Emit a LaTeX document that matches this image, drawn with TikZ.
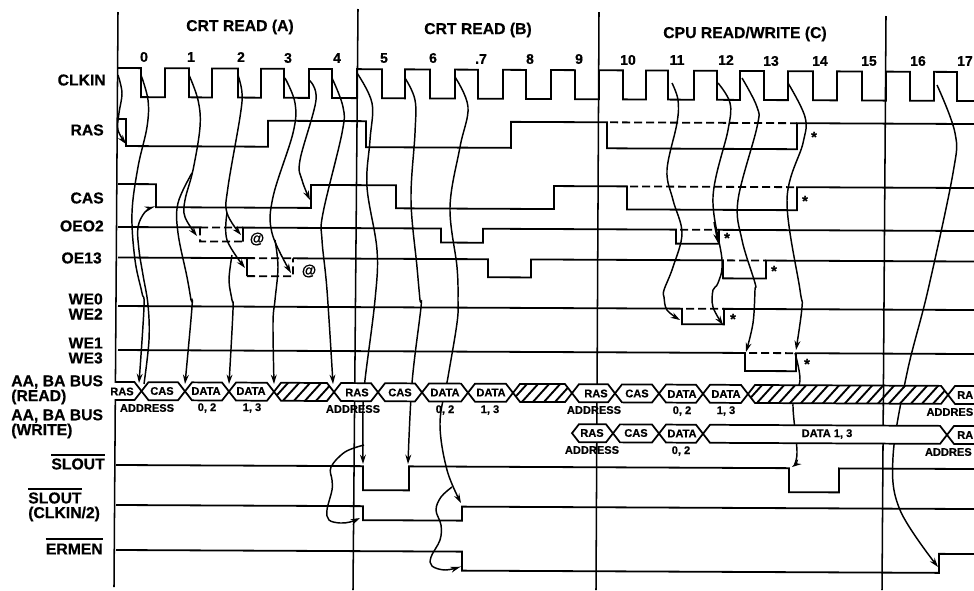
\documentclass[tikz,border=0pt]{standalone}
\usepackage{fontspec}
\setmainfont{Liberation Sans}[BoldFeatures={FakeBold=0.6}]
\usetikzlibrary{arrows.meta}
\tikzset{
  vline/.style={line width=1.15pt,black},
  wave/.style={line width=1.35pt,black,line join=miter},
  dashw/.style={line width=1.35pt,black,dash pattern=on 6pt off 3pt},
  arr/.style={line width=1.1pt,black,-{Stealth[length=7pt,width=4.4pt]}},
  bus/.style={line width=1.3pt,black,fill=white,line join=miter},
  hatchline/.style={line width=1.4pt,black},
  lab/.style={font=\bfseries\fontsize{11.8pt}{12pt}\selectfont,inner sep=0pt,black},
  num/.style={font=\bfseries\fontsize{10.5pt}{12pt}\selectfont,inner sep=0pt,black},
  small/.style={font=\bfseries\fontsize{8.3pt}{10pt}\selectfont,inner sep=0pt,black},
  sym/.style={font=\bfseries\fontsize{11pt}{12pt}\selectfont,inner sep=0pt,black},
  bar/.style={line width=1.1pt,black},
}
\newcommand{\hexseg}[3]{% a b yc
  \draw[bus] (#1,#3) -- (#1+7,#3-9) -- (#2-7,#3-9) -- (#2,#3) -- (#2-7,#3+9) -- (#1+7,#3+9) -- cycle;}
\newcommand{\hatchseg}[3]{%
  \begin{scope}
    \clip (#1,#3) -- (#1+7,#3-9) -- (#2-7,#3-9) -- (#2,#3) -- (#2-7,#3+9) -- (#1+7,#3+9) -- cycle;
    \fill[white] (#1,#3-10) rectangle (#2,#3+10);
    \foreach \k in {0,...,20} {
      \pgfmathsetmacro\hx{#1-14+11*\k}
      \draw[hatchline] (\hx,#3+10) -- (\hx+18,#3-10);
    }
  \end{scope}
  \draw[line width=1.3pt,line join=miter] (#1,#3) -- (#1+7,#3-9) -- (#2-7,#3-9) -- (#2,#3) -- (#2-7,#3+9) -- (#1+7,#3+9) -- cycle;}
\begin{document}
\begin{tikzpicture}[x=0.75pt,y=-0.75pt]
\useasboundingbox (0,0) rectangle (974,590);
\clip (0,0) rectangle (974,590);
% vertical lines
\draw[vline] (118,12) -- (114,587);
\draw[vline] (358,9) -- (353,590);
\draw[vline] (599,12) -- (596,590);
\draw[vline] (886,16) -- (882,590);
% waveforms
\begin{scope}[shift={(118,0)},yslant=-0.0047,shift={(-118,0)}]
  \draw[wave] (118,68) -- (141,68) -- (141,97)
   -- (165,97) -- (165,68) -- (189,68) -- (189,97) -- (212,97) -- (212,68) -- (238,68) -- (238,97)
   -- (261,97) -- (261,68) -- (284,68) -- (284,97) -- (309,97) -- (309,68) -- (332,68) -- (332,97)
   -- (357,97) -- (357,68) -- (382,68) -- (382,97) -- (405,97) -- (405,68) -- (430,68) -- (430,97)
   -- (455,97) -- (455,68) -- (478,68) -- (478,97) -- (503,97) -- (503,68) -- (526,68) -- (526,97)
   -- (551,97) -- (551,68) -- (575,68) -- (575,97) -- (599,97) -- (599,68) -- (623,68) -- (623,97)
   -- (646,97) -- (646,68) -- (668,68) -- (668,97) -- (694,97) -- (694,68) -- (717,68) -- (717,97)
   -- (740,97) -- (740,68) -- (764,68) -- (764,97) -- (788,97) -- (788,68) -- (813,68) -- (813,97)
   -- (837,97) -- (837,68) -- (862,68) -- (862,97) -- (886,97) -- (886,68) -- (910,68) -- (910,97)
   -- (934,97) -- (934,68) -- (957,68) -- (957,97) -- (980,97);
  % RAS
  \draw[wave] (118,119) -- (126,119) -- (126,146) -- (268,146) -- (268,120) -- (366,120) -- (366,146)
   -- (511,146) -- (511,120) -- (607,120) -- (607,146) -- (797,146) -- (797,120) -- (980,120);
  \draw[dashw] (610,120) -- (797,120);
  % CAS
  \draw[wave] (118,184) -- (156,184) -- (156,207) -- (311,207) -- (311,184) -- (396,184) -- (396,207)
   -- (554,207) -- (554,184) -- (627,184) -- (627,207) -- (797,207) -- (797,184) -- (980,184);
  \draw[dashw] (630,184) -- (797,184);
  % OEO2
  \draw[wave] (118,227) -- (200,227);
  \draw[dashw] (200,227) -- (243,227);
  \draw[dashw] (200,227) -- (200,241) -- (243,241);
  \draw[wave] (243,241) -- (243,227) -- (441,227) -- (441,241) -- (483,241) -- (483,227) -- (676,227)
   -- (676,241) -- (719,241) -- (719,227) -- (980,227);
  \draw[dashw] (680,227) -- (719,227);
  % OE13
  \draw[wave] (118,257.5) -- (247,257.5) -- (247,275.5);
  \draw[dashw] (247,257.5) -- (293,257.5);
  \draw[dashw] (247,275.5) -- (293,275.5) -- (293,257.5);
  \draw[wave] (293,257.5) -- (488,257.5) -- (488,275.5) -- (531,275.5) -- (531,257.5) -- (723,257.5)
   -- (723,275.5) -- (766,275.5) -- (766,257.5) -- (980,257.5);
  \draw[dashw] (727,257.5) -- (766,257.5);
  % WE0 WE2
  \draw[wave] (118,306) -- (682,306) -- (682,321.5) -- (724,321.5) -- (724,306) -- (980,306);
  \draw[dashw] (686,306) -- (724,306);
  % WE1 WE3
  \draw[wave] (118,350) -- (745,350) -- (745,368) -- (796,368) -- (796,350) -- (980,350);
  \draw[dashw] (749,350) -- (796,350);
  % SLOUT
  \draw[wave] (116,465) -- (363,465) -- (363,489) -- (409,489) -- (409,465) -- (789,465) -- (789,489)
   -- (839,489) -- (839,465) -- (980,465);
  % SLOUT CLKIN/2
  \draw[wave] (116,505) -- (363,505) -- (363,519) -- (462,519) -- (462,505) -- (980,505);
  % ERMEN
  \draw[wave] (116,550) -- (462,550) -- (462,569) -- (939,569) -- (939,550) -- (980,550);
\end{scope}
% connectors
\draw[arr] plot[smooth,tension=.6] coordinates {(118,75) (122,93) (119,113) (118,130) (126,144)};
\draw[arr] plot[smooth,tension=.6] coordinates {(141,75) (148,100) (147,127) (138,167) (132,213) (135,260) (142,293) (144,307) (139,383)};
\draw[arr] plot[smooth,tension=.6] coordinates {(144,384) (149,340) (148,305) (143,275) (139,250) (138,227) (145,212) (154,207)};
\draw[arr] plot[smooth,tension=.6] coordinates {(189,75) (198,100) (200,127) (193,170) (185,200) (185,217) (197,236)};
\draw[arr] plot[smooth,tension=.6] coordinates {(192,173) (178,203) (178,233) (187,277) (191,300) (192,307) (185,384)};
\draw[arr] plot[smooth,tension=.6] coordinates {(238,75) (242,93) (240,117) (228,187) (227,213) (241,235)};
\draw[arr] plot[smooth,tension=.6] coordinates {(227,213) (227,240) (245,268)};
\draw[arr] plot[smooth,tension=.6] coordinates {(232,255) (229,280) (232,300) (233,310) (229,384)};
\draw[arr] plot[smooth,tension=.6] coordinates {(285,78) (295,103) (293,133) (273,197) (272,233) (291,273)};
\draw[arr] plot[smooth,tension=.6] coordinates {(275,240) (278,267) (275,300) (273,323) (274,384)};
\draw[arr] plot[smooth,tension=.6] coordinates {(309,80) (316,100) (300,160) (302,180) (310,200)};
\draw[arr] plot[smooth,tension=.6] coordinates {(332,78) (343,107) (342,133) (323,213) (322,240) (327,290) (333,384)};
\draw[arr] plot[smooth,tension=.6] coordinates {(357,73) (372,103) (370,140) (367,187) (377,250) (375,300) (365,380) (363,410) (363,464)};
\draw[arr] plot[smooth,tension=.6] coordinates {(405,78) (415,100) (415,133) (411,200) (417,267) (420,300) (421,307) (412,383) (408,464)};
\draw[arr] plot[smooth,tension=.6] coordinates {(455,77) (468,107) (460,147) (450,207) (457,267) (458,300) (457,323) (448,377) (440,423) (447,470) (461,503)};
\draw[arr] plot[smooth,tension=.6] coordinates {(364,445) (345,452) (331,467) (332,480) (332,490) (327,510) (329,520) (340,523) (350,522) (360,518)};
\draw[arr] plot[smooth,tension=.6] coordinates {(452,487) (441,497) (436,510) (441,525) (440,540) (431,557) (432,566) (445,570) (460,567)};
\draw[arr] plot[smooth,tension=.6] coordinates {(672,83) (678,100) (677,123) (667,170) (673,200) (682,233) (673,267) (664,290) (664,297) (667,310) (680,320)};
\draw[arr] plot[smooth,tension=.6] coordinates {(718,83) (730,103) (728,130) (713,197) (722,260) (718,283) (713,290) (713,307) (723,325)};
\draw[arr] (714,222) -- (718,243);
\draw[arr] plot[smooth,tension=.6] coordinates {(742,78) (757,107) (757,127) (738,200) (742,240) (755,283) (755,290) (753,323) (746,352)};
\draw[arr] plot[smooth,tension=.6] coordinates {(788,83) (805,117) (803,143) (787,200) (800,290) (802,307) (796,350)};
\draw[arr] plot[smooth,tension=.6] coordinates {(795,353) (800,380) (793,403) (797,453) (792,467)};
\draw[arr] plot[smooth,tension=.6] coordinates {(937,85) (955,133) (953,173) (928,290) (907,373) (893,457) (900,510) (938,567)};
% buses
\begin{scope}[shift={(118,0)},yslant=-0.0047,shift={(-118,0)}]
  \draw[bus] (115,382) -- (134.5,382) -- (141.5,391) -- (134.5,400) -- (115,400);
  \fill[white] (108,383) rectangle (115.5,399);
  \hexseg{141.5}{185}{391}
  \hexseg{185}{229}{391}
  \hexseg{229}{274}{391}
  \hatchseg{274}{334}{391}
  \hexseg{334}{378}{391}
  \hexseg{378}{422}{391}
  \hexseg{422}{468}{391}
  \hexseg{468}{513}{391}
  \hatchseg{513}{572}{391}
  \hexseg{572}{615}{391}
  \hexseg{615}{659}{391}
  \hexseg{659}{703}{391}
  \hexseg{703}{748}{391}
  \hatchseg{748}{948}{391}
  \hexseg{948}{1010}{391}
  \hexseg{572}{613}{431}
  \hexseg{613}{659}{431}
  \hexseg{659}{703}{431}
  \hexseg{703}{947}{431}
  \hexseg{947}{1010}{431}
\end{scope}
% bar of the vertical line over the hatched band
\draw[vline] (883.6,384) -- (883.4,406);
% texts in buses
\node[small] (r1) at (122,391.5) {RAS};
\node[small] (c1) at (162,391) {CAS};
\node[small] (d1) at (206,391) {DATA};
\node[small] (d2) at (251,391) {DATA};
\node[small] (r2) at (357,392.5) {RAS};
\node[small] (c2) at (400,392.5) {CAS};
\node[small] (d3) at (445,392.5) {DATA};
\node[small] (d4) at (491,392.5) {DATA};
\node[small] (r3) at (596,393.5) {RAS};
\node[small] (c3) at (637,393.5) {CAS};
\node[small] (d5) at (682,394) {DATA};
\node[small] (d6) at (726,394) {DATA};
\node[small,anchor=east] (r4) at (973.5,395) {RA};
\node[small] (r5) at (592,433) {RAS};
\node[small] (c5) at (636,433) {CAS};
\node[small] (d7) at (682,433.5) {DATA};
\node[small] (d8) at (827,434) {DATA 1, 3};
\node[small,anchor=east] (r6) at (973.5,435) {RA};
% texts under buses
\node[small] (a1) at (147,408) {ADDRESS};
\node[small] (n1) at (207,408) {0, 2};
\node[small] (n2) at (252,408) {1, 3};
\node[small] (a2) at (353,409) {ADDRESS};
\node[small] (n3) at (445,410) {0, 2};
\node[small] (n4) at (490,410) {1, 3};
\node[small] (a3) at (594,410) {ADDRESS};
\node[small] (n5) at (682,411) {0, 2};
\node[small] (n6) at (726,411) {1, 3};
\node[small,anchor=east] (a4) at (973.5,412) {ADDRES};
\node[small] (a5) at (592,450) {ADDRESS};
\node[small] (n7) at (681,451) {0, 2};
\node[small,anchor=east] (a6) at (972,452) {ADDRES};
% titles
\node[lab] (t1) at (240,27) {CRT READ (A)};
\node[lab] (t2) at (478,30) {CRT READ (B)};
\node[lab] (t3) at (745,34) {CPU READ/WRITE (C)};
% clock numbers
\node[num] (k0) at (144,57) {0};
\node[num] (k1) at (191,57) {1};
\node[num] (k2) at (241,57) {2};
\node[num] (k3) at (288,58) {3};
\node[num] (k4) at (337,58) {4};
\node[num] (k5) at (384,58) {5};
\node[num] (k6) at (433,58) {6};
\node[num] (k7) at (481,59) {.7};
\node[num] (k8) at (530,59) {8};
\node[num] (k9) at (579,59) {9};
\node[num] (k10) at (628,60) {10};
\node[num] (k11) at (677,60) {11};
\node[num] (k12) at (726,60) {12};
\node[num] (k13) at (771,61) {13};
\node[num] (k14) at (820,61) {14};
\node[num] (k15) at (869,61) {15};
\node[num] (k16) at (918,61) {16};
\node[num] (k17) at (965,61) {17};
% signal labels
\node[lab,anchor=east] (lclk) at (106,80) {CLKIN};
\node[lab,anchor=east] (lras) at (104,130) {RAS};
\node[lab,anchor=east] (lcas) at (104,198) {CAS};
\node[lab,anchor=east] (loe0) at (104,226) {OEO2};
\node[lab,anchor=east] (loe1) at (102,258) {OE13};
\node[lab,anchor=east] (lwe0) at (103,299) {WE0};
\node[lab,anchor=east] (lwe2) at (103,314) {WE2};
\node[lab,anchor=east] (lwe1) at (103,343) {WE1};
\node[lab,anchor=east] (lwe3) at (103,358) {WE3};
\node[lab,anchor=west] (lbr) at (11,382) {AA, BA BUS};
\node[lab,anchor=west] (lrd) at (11,397) {(READ)};
\node[lab,anchor=west] (lbw) at (11,416) {AA, BA BUS};
\node[lab,anchor=west] (lwr) at (11,431) {(WRITE)};
\node[lab,anchor=east] (ls1) at (105,464) {SLOUT};
\draw[bar] (ls1.west |- 0,455) -- (ls1.east |- 0,455);
\node[lab,anchor=west] (ls2) at (28,498) {SLOUT};
\draw[bar] (ls2.west |- 0,489) -- (ls2.east |- 0,489);
\node[lab,anchor=west] (ls3) at (28,514) {(CLKIN/2)};
\node[lab,anchor=east] (ler) at (103,549) {ERMEN};
\draw[bar] (ler.west |- 0,539) -- (ler.east |- 0,539);
% marks
\node[sym] (s1) at (814,137) {*};
\node[sym] (s2) at (805,201) {*};
\node[sym] (s3) at (727,238) {*};
\node[sym] (s4) at (774,271) {*};
\node[sym] (s5) at (733,319) {*};
\node[sym] (s6) at (807,364) {*};
\node[sym] (at1) at (257,239) {@};
\node[sym] (at2) at (309,271) {@};
\end{tikzpicture}
\end{document}
